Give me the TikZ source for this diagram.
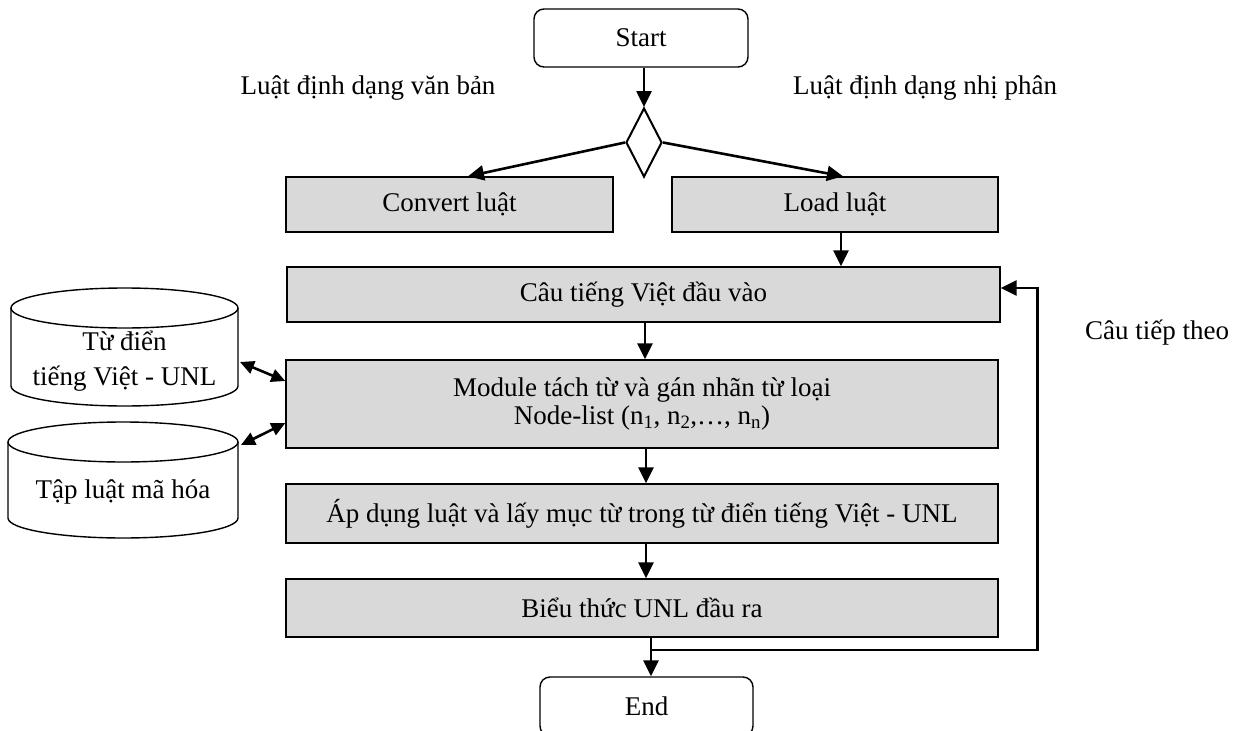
\documentclass[tikz,border=0pt]{standalone}
\usepackage{fontspec}
\setmainfont{Liberation Serif}
\usetikzlibrary{shapes.geometric,arrows.meta,calc}
\definecolor{boxgray}{HTML}{D9D9D9}
\begin{document}
\begin{tikzpicture}[x=1pt,y=-1pt,
  every node/.style={font=\fontsize{27}{32}\selectfont},
  procbox/.style={draw,line width=1.4pt,fill=boxgray,inner sep=0pt},
  termbox/.style={draw,line width=1.4pt,rounded corners=10pt,inner sep=0pt,minimum width=214pt,minimum height=58pt},
  arr/.style={line width=2.6pt,-{Triangle[length=16pt,width=15pt]}},
  darr/.style={line width=2.6pt,{Triangle[length=14pt,width=13pt]}-{Triangle[length=14pt,width=13pt]}},
  plain/.style={inner sep=0pt}]
\useasboundingbox (0,0) rectangle (1235,731);

% terminals
\node[termbox] (start) at (641,38) {Start};
\node[termbox,minimum width=213pt,minimum height=59pt] (end) at (646.5,706.5) {End};

% decision
\node[draw,line width=2pt,shape=diamond,aspect=0.52,minimum width=36pt,minimum height=69pt,inner sep=0pt] (dec) at (644,142.5) {};

% labels
\node[plain] (lblL) at (368,88) {Luật định dạng văn bản};
\node[plain] (lblR) at (925,88) {Luật định dạng nhị phân};
\node[plain] (lblN) at (1157,333) {Câu tiếp theo};

% process boxes
\node[procbox,minimum width=327pt,minimum height=55pt] (conv) at (449.5,204.5) {Convert luật};
\node[procbox,minimum width=326pt,minimum height=55pt] (load) at (835,204.5) {Load luật};
\node[procbox,minimum width=713pt,minimum height=55pt] (cau) at (643.5,294.5) {Câu tiếng Việt đầu vào};
\node[procbox,minimum width=712pt,minimum height=88pt,align=center,
      font=\fontsize{27}{28}\selectfont] (mod) at (642,404)
  {Module tách từ và gán nhãn từ loại\\Node-list (n\textsubscript{1}, n\textsubscript{2},…, n\textsubscript{n})};
\node[procbox,minimum width=712pt,minimum height=59pt] (ap) at (642,513.5) {Áp dụng luật và lấy mục từ trong từ điển tiếng Việt - UNL};
\node[procbox,minimum width=712pt,minimum height=58pt] (bieu) at (642,608) {Biểu thức UNL đầu ra};

% databases (cylinders)
\draw[line width=1.4pt,fill=white] (124.5,308) ellipse [x radius=113.5pt,y radius=20pt];
\draw[line width=1.4pt] (11,308) -- (11,386) arc[start angle=180,end angle=360,x radius=113.5pt,y radius=20pt] -- (238,308);
\node[plain,align=center,font=\fontsize{27}{35}\selectfont] (dict) at (124.5,361) {Từ điển\\tiếng Việt - UNL};
\coordinate (dictE) at (240,362);

\draw[line width=1.4pt,fill=white] (123,442) ellipse [x radius=115pt,y radius=20pt];
\draw[line width=1.4pt] (8,442) -- (8,518) arc[start angle=180,end angle=360,x radius=115pt,y radius=20pt] -- (238,442);
\node[plain] (rules) at (123,492) {Tập luật mã hóa};
\coordinate (rulesE) at (241,445);

% connectors
\draw[arr] (dec.north |- start.south) -- (dec.north);
\draw[arr] (dec.west) -- ([xshift=18.5pt]conv.north);
\draw[arr] (dec.east) -- ([xshift=8pt]load.north);
\draw[arr] ([xshift=6pt]load.south) -- ([xshift=6pt]load.south |- cau.north);
\draw[arr] ([xshift=1.5pt]cau.south) -- ([xshift=1.5pt]cau.south |- mod.north);
\draw[arr] ([xshift=4pt]mod.south) -- ([xshift=4pt]mod.south |- ap.north);
\draw[arr] ([xshift=4pt]ap.south) -- ([xshift=4pt]ap.south |- bieu.north);
\draw[arr] ([xshift=9pt]bieu.south) -- ([xshift=9pt]bieu.south |- end.north);
\coordinate (j) at (651,650);
\draw[arr] (j) -| ([xshift=37pt,yshift=6.5pt]cau.east) -- ([yshift=6.5pt]cau.east);
\draw[darr] (dictE) -- ([yshift=23pt]mod.west);
\draw[darr] (rulesE) -- ([yshift=-19pt]mod.west);
\end{tikzpicture}
\end{document}
